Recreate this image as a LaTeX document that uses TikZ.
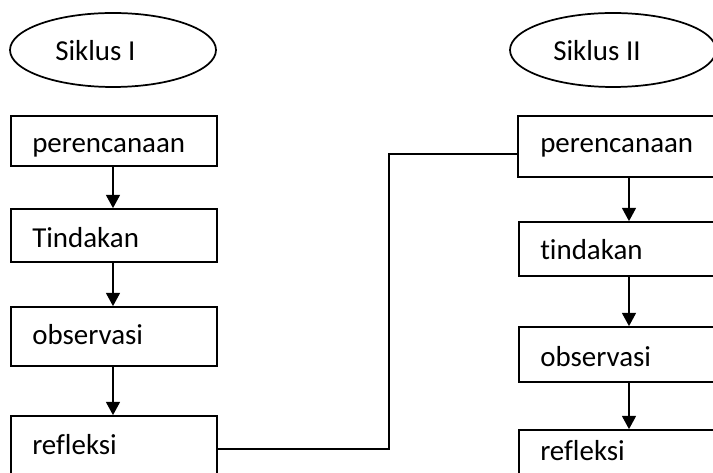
\documentclass[tikz,border=0pt]{standalone}
\usepackage{fontspec}
\setmainfont{Carlito}[Ligatures=NoCommon]
\usetikzlibrary{arrows.meta,shapes.geometric,fit}
\begin{document}
\begin{tikzpicture}[x=0.75pt,y=-0.75pt,
  box/.style={draw,line width=1.3pt,inner sep=0pt,fit={#1}},
  oval/.style={draw,ellipse,line width=1.3pt,minimum width=154.5pt,minimum height=55.5pt,inner sep=0pt},
  lbl/.style={anchor=base west,inner sep=0pt,font=\fontsize{21.7}{26}\selectfont},
  arr/.style={line width=1.3pt,-{Triangle[width=10.5pt,length=10pt]}},
  conn/.style={line width=1.3pt}]
\useasboundingbox (0,0) rectangle (713,473);
\clip (0,0) rectangle (713,473);
% ellipses
\node[oval] (e1) at (113,50) {};
\node[oval] (e2) at (613,50) {};
\node[lbl] (t1) at (55,61) {Siklus I};
\node[lbl] (t2) at (553,61) {Siklus II};
% left column
\node[box={(11,116) (217,166)}] (L1) {};
\node[box={(11,209) (217,262)}] (L2) {};
\node[box={(11,307) (217,366)}] (L3) {};
\node[box={(11,416) (217,490)}] (L4) {};
\node[lbl] at (32,153) {perencanaan};
\node[lbl] at (32,248) {Tindakan};
\node[lbl] at (32,345) {observasi};
\node[lbl] at (32,454) {refleksi};
% right column
\node[box={(518,116) (740,177)}] (R1) {};
\node[box={(519,222) (740,276)}] (R2) {};
\node[box={(519,327) (740,382)}] (R3) {};
\node[box={(519,430) (740,490)}] (R4) {};
\node[lbl] at (540,153) {perencanaan};
\node[lbl] at (540,260) {tindakan};
\node[lbl] at (540,367) {observasi};
\node[lbl] at (540,460) {refleksi};
% arrow columns
\coordinate (ax) at (113,0);
\coordinate (bx) at (629,0);
\coordinate (cy1) at (0,449);
\coordinate (cy2) at (0,154);
\coordinate (mx) at (389,0);
\draw[arr] (L1.south -| ax) -- (L2.north -| ax);
\draw[arr] (L2.south -| ax) -- (L3.north -| ax);
\draw[arr] (L3.south -| ax) -- (L4.north -| ax);
\draw[arr] (R1.south -| bx) -- (R2.north -| bx);
\draw[arr] (R2.south -| bx) -- (R3.north -| bx);
\draw[arr] (R3.south -| bx) -- (R4.north -| bx);
% connector
\draw[conn] (L4.east |- cy1) -| (mx |- cy2) -- (R1.west |- cy2);
\end{tikzpicture}
\end{document}
